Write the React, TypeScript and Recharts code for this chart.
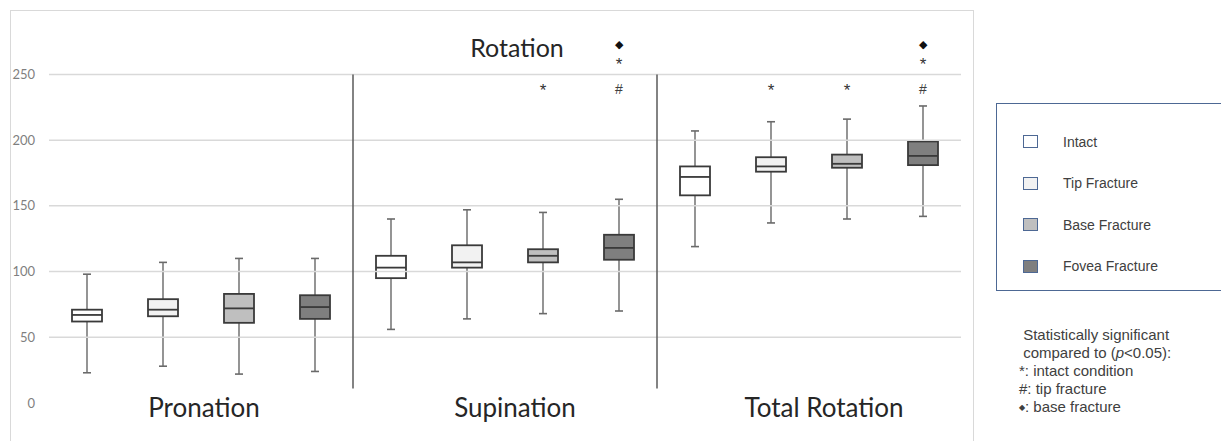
import React from "react";
import {
  ComposedChart,
  Bar,
  XAxis,
  YAxis,
  ReferenceLine,
} from "recharts";

// groups along the x axis, four conditions in each
const movements = ["Pronation", "Supination", "Total Rotation"];
const conditions = ["Intact", "Tip Fracture", "Base Fracture", "Fovea Fracture"];
const conditionFills = ["#ffffff", "#f2f2f2", "#bfbfbf", "#7f7f7f"];

// box plot values, 12 boxes (movement x condition)
const whiskerLow = [23, 28, 22, 24, 56, 64, 68, 70, 119, 137, 140, 142];
const quartile1 = [62, 66, 61, 64, 95, 103, 107, 109, 158, 176, 179, 181];
const medians = [67, 71, 72, 73, 103, 107, 112, 118, 172, 180, 182, 188];
const quartile3 = [71, 79, 83, 82, 112, 120, 117, 128, 180, 187, 189, 199];
const whiskerHigh = [98, 107, 110, 110, 140, 147, 145, 155, 207, 214, 216, 226];

// significance marks, listed bottom-up
const marks: string[][] = [
  [], [], [], [],
  [], [], ["*"], ["#", "*", "\u25C6"],
  [], ["*"], ["*"], ["#", "*", "\u25C6"],
];
const markLevels = [239, 259, 273];

const yTicks = [0, 50, 100, 150, 200, 250];
const gridValues = [50, 100, 150, 200, 250];
const groupTicks = [0.5, 1.5, 2.5];
const separators = [1, 2];

const data = whiskerLow.map((low, i) => ({
  id: `${movements[Math.floor(i / 4)]}-${conditions[i % 4]}`,
  pos: (i + 0.5) / 4,
  cond: i % 4,
  low,
  q1: quartile1[i],
  med: medians[i],
  q3: quartile3[i],
  high: whiskerHigh[i],
  marks: marks[i],
  range: [low, whiskerHigh[i]],
}));

const BoxShape = (props: any) => {
  const { x, y, width, height, payload } = props;
  if (!payload) return null;
  const top = height >= 0 ? y : y + height;
  const h = Math.abs(height);
  const k = h / (payload.high - payload.low);
  const py = (v: number) => top + (payload.high - v) * k;
  const cx = x + width / 2;
  const cap = 4;
  const glyph: Record<string, { size: number; dy: number; color: string }> = {
    "*": { size: 17, dy: 2, color: "#333333" },
    "#": { size: 14, dy: 0, color: "#404040" },
    "\u25C6": { size: 11, dy: 0, color: "#111111" },
  };
  return (
    <g>
      <line x1={cx} x2={cx} y1={py(payload.high)} y2={py(payload.low)} stroke="#7a7a7a" strokeWidth={1.6} />
      <line x1={cx - cap} x2={cx + cap} y1={py(payload.high)} y2={py(payload.high)} stroke="#6a6a6a" strokeWidth={1.6} />
      <line x1={cx - cap} x2={cx + cap} y1={py(payload.low)} y2={py(payload.low)} stroke="#6a6a6a" strokeWidth={1.6} />
      <rect
        x={x}
        y={py(payload.q3)}
        width={width}
        height={py(payload.q1) - py(payload.q3)}
        fill={conditionFills[payload.cond]}
        stroke="#3a3a3a"
        strokeWidth={1.8}
      />
      <line x1={x} x2={x + width} y1={py(payload.med)} y2={py(payload.med)} stroke="#3a3a3a" strokeWidth={1.8} />
      {payload.marks.map((m: string, j: number) => (
        <text
          key={j}
          x={cx}
          y={py(markLevels[j])}
          dy={glyph[m].dy}
          textAnchor="middle"
          dominantBaseline="central"
          fontSize={glyph[m].size}
          fill={glyph[m].color}
          fontFamily="'Liberation Sans', Arial, sans-serif"
        >
          {m}
        </text>
      ))}
    </g>
  );
};

const GroupTick = (props: any) => {
  const { x, y, index } = props;
  const shift = [3, 10, 15];
  return (
    <text x={x + shift[index]} y={y} dy={-22} textAnchor="middle" fontSize={26} fill="#262626" fontFamily="Lato, sans-serif">
      {movements[index]}
    </text>
  );
};

const LegendBox = () => (
  <div
    style={{
      position: "absolute",
      left: 996,
      top: 103,
      width: 240,
      height: 188,
      border: "1.5px solid #4d6894",
      boxSizing: "border-box",
      paddingTop: 17,
      fontFamily: "'Liberation Sans', Arial, sans-serif",
      fontSize: 14,
      color: "#404040",
    }}
  >
    {conditions.map((c, i) => (
      <div key={c} style={{ display: "flex", alignItems: "center", height: 41.5, marginLeft: 26 }}>
        <span
          style={{
            display: "inline-block",
            width: 13,
            height: 11,
            background: conditionFills[i],
            border: "1.5px solid #4d6894",
            marginRight: 25,
          }}
        />
        {c}
      </div>
    ))}
  </div>
);

export default function App() {
  return (
    <div style={{ position: "absolute", left: 0, top: 0, width: 1221, height: 441, background: "#fff", overflow: "hidden" }}>
      <div style={{ position: "absolute", left: 10, top: 10, width: 964, height: 440, border: "1px solid #d9d9d9", boxSizing: "border-box" }} />
      <ComposedChart
        width={1221}
        height={441}
        data={data}
        margin={{ top: 35, right: 260, bottom: 0, left: 0 }}
        style={{ position: "absolute", left: 0, top: 0 }}
      >
        <XAxis xAxisId="box" dataKey="id" hide />
        <XAxis
          xAxisId="grp"
          dataKey="pos"
          type="number"
          domain={[0, 3]}
          ticks={groupTicks}
          height={38}
          axisLine={false}
          tickLine={false}
          tickMargin={0}
          tick={<GroupTick />}
          allowDataOverflow
        />
        <YAxis
          domain={[0, 280]}
          ticks={yTicks}
          width={49}
          axisLine={false}
          tickLine={false}
          tickMargin={8}
          tick={{ fill: "#7f7f7f", fontSize: 13, fontFamily: "Lato, sans-serif" }}
          interval={0}
        />
        {gridValues.map((v) => (
          <ReferenceLine key={v} y={v} xAxisId="grp" stroke="#d9d9d9" strokeWidth={1.5} />
        ))}
        {separators.map((s) => (
          <ReferenceLine
            key={s}
            xAxisId="grp"
            segment={[{ x: s, y: 11 }, { x: s, y: 250 }]}
            stroke="#5a5a5a"
            strokeWidth={1.5}
          />
        ))}
        <Bar xAxisId="box" dataKey="range" barSize={30} shape={<BoxShape />} isAnimationActive={false} />
      </ComposedChart>
      <LegendBox />
      <div
        style={{
          position: "absolute",
          left: 417,
          top: 35,
          width: 200,
          textAlign: "center",
          fontFamily: "Lato, sans-serif",
          fontSize: 25,
          lineHeight: "25px",
          color: "#262626",
        }}
      >
        Rotation
      </div>
      <div
        style={{
          position: "absolute",
          left: 1019,
          top: 326,
          fontFamily: "'Liberation Sans', Arial, sans-serif",
          fontSize: 15,
          lineHeight: "18px",
          color: "#404040",
          whiteSpace: "nowrap",
        }}
      >
        <div>&nbsp;Statistically significant</div>
        <div>&nbsp;compared to (<i>p</i>&lt;0.05):</div>
        <div>*: intact condition</div>
        <div>#: tip fracture</div>
        <div>
          <span style={{ fontSize: 8, verticalAlign: "middle" }}>{"\u25C6"}</span>: base fracture
        </div>
      </div>
    </div>
  );
}
